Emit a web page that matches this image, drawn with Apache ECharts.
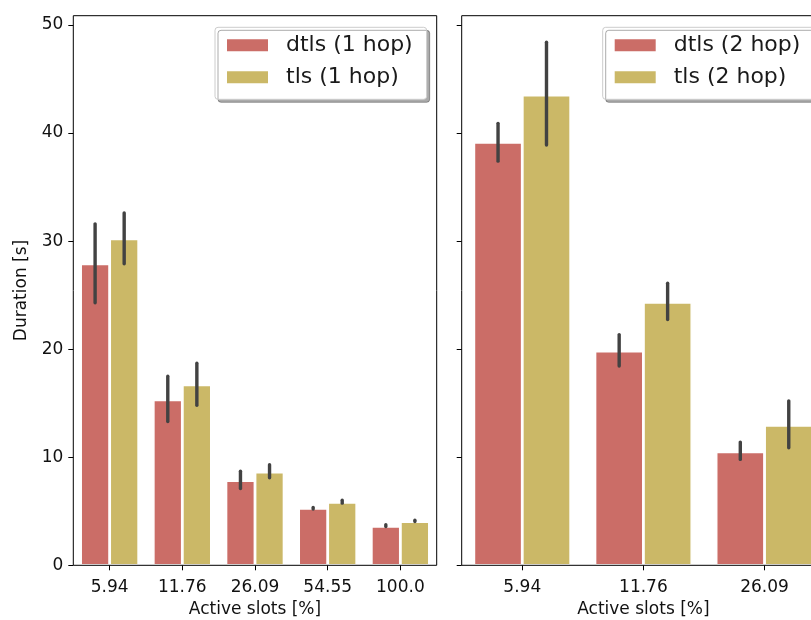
<!DOCTYPE html>
<html>
<head>
<meta charset="utf-8">
<script src="https://cdn.jsdelivr.net/npm/echarts@6/dist/echarts.min.js"></script>
<style>
html,body{margin:0;padding:0;background:#fff;overflow:hidden;}
#chart{width:811px;height:620px;}
</style>
</head>
<body>
<div id="chart"></div>
<script>
// ---- data ----
const categories1 = ['5.94', '11.76', '26.09', '54.55', '100.0'];
const categories2 = ['5.94', '11.76', '26.09'];
const dtls1 = [27.9, 15.3, 7.83, 5.27, 3.61];
const tls1 = [30.2, 16.7, 8.63, 5.83, 4.04];
const dtls1Err = [[24.3, 31.6], [13.3, 17.5], [7.1, 8.7], [5.2, 5.35], [3.58, 3.75]];
const tls1Err = [[27.9, 32.6], [14.8, 18.7], [8.1, 9.3], [5.75, 6.02], [4.05, 4.18]];
const dtls2 = [39.15, 19.83, 10.51];
const tls2 = [43.52, 24.34, 12.96];
const dtls2Err = [[37.4, 40.9], [18.45, 21.35], [9.8, 11.4]];
const tls2Err = [[38.9, 48.4], [22.75, 26.1], [10.87, 15.22]];
const yTicks = [0, 10, 20, 30, 40, 50];
const legend1 = ['dtls (1 hop)', 'tls (1 hop)'];
const legend2 = ['dtls (2 hop)', 'tls (2 hop)'];

const RED = '#cb6d67';
const YEL = '#cbb867';
const FONT = 'DejaVu Sans';
const YMAX = 50.86;

const chart = echarts.init(document.getElementById('chart'), null, {renderer: 'canvas'});

function errSeries(errs, gridIdx, sign) {
  return {
    type: 'custom',
    xAxisIndex: gridIdx, yAxisIndex: gridIdx,
    z: 5,
    silent: true,
    data: errs.map((e, i) => [i, e[0], e[1]]),
    renderItem: function (params, api) {
      const band = api.size([1, 0])[0];
      const off = sign * band * 0.2;
      const p1 = api.coord([api.value(0), api.value(1)]);
      const p2 = api.coord([api.value(0), api.value(2)]);
      return {
        type: 'line',
        shape: {x1: p1[0] + off, y1: p1[1], x2: p2[0] + off, y2: p2[1]},
        style: {stroke: '#424242', lineWidth: 3.4, lineCap: 'round'}
      };
    }
  };
}

function barSeries(name, data, color, gridIdx) {
  return {
    name: name, type: 'bar',
    xAxisIndex: gridIdx, yAxisIndex: gridIdx,
    data: data,
    barWidth: '40%', barGap: '0%',
    itemStyle: {color: color, borderColor: '#fff', borderWidth: 1.4},
    emphasis: {disabled: true},
    silent: true
  };
}

function legendCfg(names, left) {
  return {
    data: names,
    orient: 'vertical',
    left: left, top: 27.3,
    itemWidth: 43, itemHeight: 14,
    itemGap: 8,
    icon: 'rect',
    padding: [6, 14, 10, 10],
    backgroundColor: '#fff',
    borderColor: '#cccccc', borderWidth: 1, borderRadius: 3,
    shadowColor: 'rgba(0,0,0,0.33)', shadowBlur: 0, shadowOffsetX: 3, shadowOffsetY: 3,
    selectedMode: false,
    textStyle: {fontFamily: FONT, fontSize: 22, color: '#1a1a1a', lineHeight: 24, padding: [0, 0, 0, 12]}
  };
}

const axisTxt = {fontFamily: FONT, fontSize: 17, color: '#111'};

function xAxisCfg(cats, gridIdx) {
  return {
    type: 'category', gridIndex: gridIdx, data: cats,
    boundaryGap: true,
    axisLine: {show: false},
    axisTick: {show: true, alignWithLabel: true, length: 5, lineStyle: {color: '#000', width: 1}},
    axisLabel: Object.assign({margin: 14}, axisTxt),
    name: 'Active slots [%]', nameLocation: 'middle', nameGap: 36,
    nameTextStyle: axisTxt,
    splitLine: {show: false}
  };
}

function yAxisCfg(gridIdx, showLabels) {
  const c = {
    type: 'value', gridIndex: gridIdx, min: 0, max: YMAX,
    axisLine: {show: false},
    axisTick: {show: true, length: 5, customValues: yTicks, lineStyle: {color: '#000', width: 1}},
    axisLabel: Object.assign({show: showLabels, margin: 10, customValues: yTicks}, axisTxt),
    splitLine: {show: false}
  };
  if (showLabels) {
    c.name = 'Duration [s]';
    c.nameLocation = 'middle';
    c.nameGap = 43;
    c.nameTextStyle = axisTxt;
  }
  return c;
}

const option = {
  animation: false,
  backgroundColor: '#fff',
  grid: [
    {left: 73.3, top: 15.7, width: 363.4, height: 549.6, show: true, z: 10,
     borderColor: '#000', borderWidth: 1, backgroundColor: 'transparent',
     containLabel: false, outerBoundsMode: 'none'},
    {left: 461.7, top: 15.7, width: 363.4, height: 549.6, show: true, z: 10,
     borderColor: '#000', borderWidth: 1, backgroundColor: 'transparent',
     containLabel: false, outerBoundsMode: 'none'}
  ],
  legend: [legendCfg(legend1, 215), legendCfg(legend2, 602.7)],
  xAxis: [xAxisCfg(categories1, 0), xAxisCfg(categories2, 1)],
  yAxis: [yAxisCfg(0, true), yAxisCfg(1, false)],
  series: [
    barSeries(legend1[0], dtls1, RED, 0),
    barSeries(legend1[1], tls1, YEL, 0),
    barSeries(legend2[0], dtls2, RED, 1),
    barSeries(legend2[1], tls2, YEL, 1),
    errSeries(dtls1Err, 0, -1),
    errSeries(tls1Err, 0, 1),
    errSeries(dtls2Err, 1, -1),
    errSeries(tls2Err, 1, 1)
  ]
};
chart.setOption(option);
</script>
</body>
</html>
